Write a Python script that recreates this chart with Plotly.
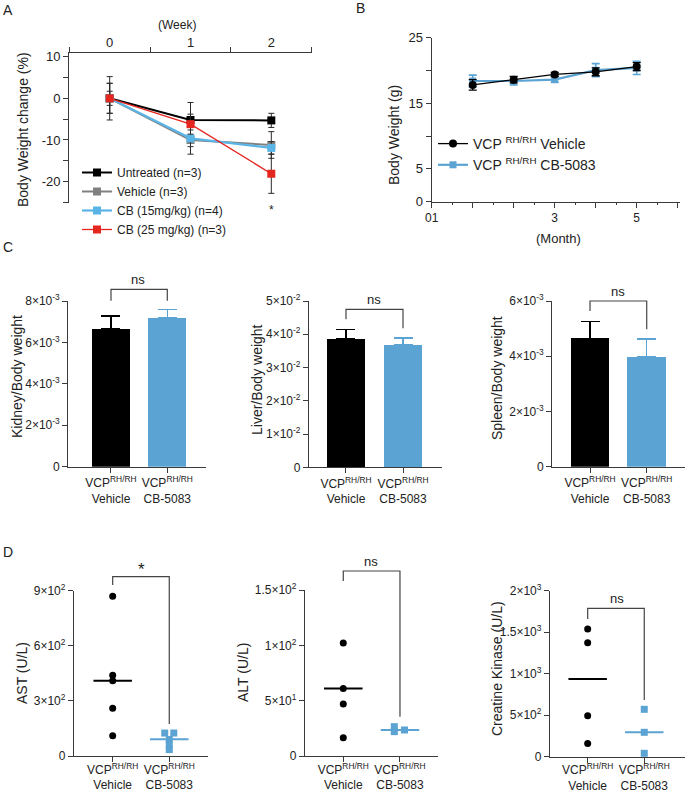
import plotly.graph_objects as go

W, H = 685, 792
FONT = "Arial, Liberation Sans, Helvetica, sans-serif"
TXT = "#222222"
AX = "#3a3a3a"

# ---------------- data ----------------
weeks = [0, 1, 2]
a_untreated = [0, -5.2, -5.3]
a_untreated_err = [5.2, 4.2, 1.7]
a_vehicle = [0, -10.0, -11.2]
a_vehicle_err = [3.6, 3.4, 3.2]
a_cb15 = [0, -9.6, -11.9]
a_cb15_err = [1.7, 2.0, 1.5]
a_cb25 = [0, -6.2, -18.1]
a_cb25_err = [3.6, 2.4, 4.7]
a_names = ["Untreated (n=3)", "Vehicle (n=3)", "CB (15mg/kg) (n=4)", "CB (25 mg/kg) (n=3)"]

months = [1, 2, 3, 4, 5]
b_vehicle = [17.8, 18.6, 19.4, 19.8, 20.6]
b_vehicle_err = [0.8, 0.5, 0.3, 0.6, 0.6]
b_cb = [18.4, 18.4, 18.6, 20.05, 20.4]
b_cb_err = [0.9, 0.6, 0.4, 1.0, 1.0]
b_names = ["VCP <sup>RH/RH</sup> Vehicle", "VCP <sup>RH/RH</sup> CB-5083"]

groups = ["VCP<sup>RH/RH</sup><br>Vehicle", "VCP<sup>RH/RH</sup><br>CB-5083"]
kidney = [6.65e-3, 7.18e-3]
kidney_err = [0.63e-3, 0.42e-3]
liver = [3.87e-2, 3.69e-2]
liver_err = [0.27e-2, 0.20e-2]
spleen = [4.65e-3, 3.99e-3]
spleen_err = [0.60e-3, 0.63e-3]

ast_vehicle = [870, 440, 410, 260, 110]
ast_vehicle_center = 410
ast_cb = [125, 125, 90, 60, 35]
ast_cb_center = 91
alt_vehicle = [102, 61, 47, 16.5]
alt_vehicle_center = 61
alt_cb = [26.5, 22, 23.5]
alt_cb_center = 23.5
ck_vehicle = [1540, 1373, 494, 160]
ck_vehicle_center = 936
ck_cb = [571, 294, 41]
ck_cb_center = 294

# small horizontal spreads of overlapping points (category units)
ast_cb_spread = [-0.08, 0.08, 0, 0, 0]
alt_cb_spread = [-0.1, -0.1, 0.08]

# ---------------- styling ----------------
BLACK = "#000000"
GRAY = "#808080"
BLUE_A = "#5AB4E6"
RED = "#E5261F"
BLUE = "#5BA3D3"

boxes = {
    "A": dict(l=69.3, r=311.7, t=53.3, b=202.5),
    "B": dict(l=431.7, r=680, t=37.7, b=201.7),
    "C1": dict(l=68.3, r=205.7, t=301, b=466.7),
    "C2": dict(l=309, r=441.7, t=301, b=467.3),
    "C3": dict(l=552.3, r=685, t=301, b=466.7),
    "D1": dict(l=74, r=208.3, t=590.7, b=756),
    "D2": dict(l=305, r=438.3, t=590, b=756),
    "D3": dict(l=550, r=685, t=590.7, b=756.7),
}
xranges = {
    "A": [-0.5, 2.5], "B": [0, 6.056],
    "C1": [-0.758, 1.682], "C2": [-0.649, 1.679], "C3": [-0.665, 1.675],
    "D1": [-0.684, 1.69], "D2": [-0.675, 1.676], "D3": [-0.666, 1.72],
}
axid = {"A": "", "B": "2", "C1": "3", "C2": "4", "C3": "5", "D1": "6", "D2": "7", "D3": "8"}


def dx(b):
    return [b["l"] / W, min(b["r"] / W, 1)]


def dy(b):
    return [1 - b["b"] / H, 1 - b["t"] / H]


def xpx(panel, v):
    b, r = boxes[panel], xranges[panel]
    return b["l"] + (v - r[0]) / (r[1] - r[0]) * (b["r"] - b["l"])


base_axis = dict(showline=True, linecolor=AX, linewidth=1.3, ticks="outside",
                 tickcolor=AX, tickwidth=1.2, ticklen=5, showgrid=False, zeroline=False,
                 automargin=False, tickangle=0,
                 tickfont=dict(family=FONT, size=12, color=TXT), fixedrange=True)

fig = go.Figure()

# ---------------- Panel A ----------------
a_series = [
    (a_untreated, a_untreated_err, BLACK, 2.0),
    (a_vehicle, a_vehicle_err, GRAY, 2.0),
    (a_cb15, a_cb15_err, BLUE_A, 2.2),
    (a_cb25, a_cb25_err, RED, 1.3),
]
for (vals, err, col, lw), name in zip(a_series, a_names):
    fig.add_trace(go.Scatter(
        x=weeks, y=vals, name=name, mode="lines+markers",
        line=dict(color=col, width=lw),
        marker=dict(symbol="square", size=8, color=col),
        error_y=dict(type="data", array=err, color="#2a2a2a", thickness=1, width=3),
        xaxis="x", yaxis="y", legend="legend", cliponaxis=False))

# ---------------- Panel B ----------------
fig.add_trace(go.Scatter(
    x=months, y=b_cb, name=b_names[1], mode="lines+markers",
    line=dict(color=BLUE, width=2.2), marker=dict(symbol="square", size=7, color=BLUE),
    error_y=dict(type="data", array=b_cb_err, color=BLUE, thickness=1.6, width=4),
    xaxis="x2", yaxis="y2", legend="legend2", legendrank=2))
fig.add_trace(go.Scatter(
    x=months, y=b_vehicle, name=b_names[0], mode="lines+markers",
    line=dict(color=BLACK, width=1.3), marker=dict(symbol="circle", size=8, color=BLACK),
    error_y=dict(type="data", array=b_vehicle_err, color=BLACK, thickness=1.3, width=4),
    xaxis="x2", yaxis="y2", legend="legend2", legendrank=1))

# ---------------- Panel C ----------------
for panel, vals, errs in [("C1", kidney, kidney_err), ("C2", liver, liver_err), ("C3", spleen, spleen_err)]:
    i = axid[panel]
    for k, col in enumerate([BLACK, BLUE]):
        fig.add_trace(go.Bar(
            x=[k], y=[vals[k]], width=0.675,
            marker=dict(color=col, line=dict(width=0)),
            error_y=dict(type="data", array=[errs[k]], arrayminus=[0], symmetric=False,
                         color=col, thickness=1.5, width=9.5),
            xaxis="x" + i, yaxis="y" + i, showlegend=False))

# ---------------- Panel D ----------------
d_sets = [
    ("D1", ast_vehicle, ast_vehicle_center, ast_cb, ast_cb_center, ast_cb_spread),
    ("D2", alt_vehicle, alt_vehicle_center, alt_cb, alt_cb_center, alt_cb_spread),
    ("D3", ck_vehicle, ck_vehicle_center, ck_cb, ck_cb_center, [0] * len(ck_cb)),
]
for panel, veh, vc, cb, cc, spread in d_sets:
    i = axid[panel]
    fig.add_trace(go.Scatter(x=[-0.34, 0.34], y=[vc, vc], mode="lines",
                             line=dict(color=BLACK, width=2), xaxis="x" + i, yaxis="y" + i,
                             showlegend=False, cliponaxis=False))
    fig.add_trace(go.Scatter(x=[1 - 0.34, 1 + 0.34], y=[cc, cc], mode="lines",
                             line=dict(color=BLUE, width=2), xaxis="x" + i, yaxis="y" + i,
                             showlegend=False, cliponaxis=False))
    fig.add_trace(go.Scatter(x=[0] * len(veh), y=veh, mode="markers",
                             marker=dict(symbol="circle", size=7, color=BLACK),
                             xaxis="x" + i, yaxis="y" + i, showlegend=False, cliponaxis=False))
    fig.add_trace(go.Scatter(x=[1 + s for s in spread], y=cb, mode="markers",
                             marker=dict(symbol="square", size=7, color=BLUE),
                             xaxis="x" + i, yaxis="y" + i, showlegend=False, cliponaxis=False))

# ---------------- axes ----------------
layout_axes = {}
# A
layout_axes["xaxis"] = dict(base_axis, domain=dx(boxes["A"]), range=xranges["A"], anchor="y", side="top",
                            tickvals=weeks, ticktext=["0", "1", "2"], ticks="",
                            tickfont=dict(family=FONT, size=13, color=TXT),
                            minor=dict(ticks="outside", tick0=-0.5, dtick=1, ticklen=5, tickcolor=AX, tickwidth=1.2))
layout_axes["yaxis"] = dict(base_axis, domain=dy(boxes["A"]), range=[-25, 10.8], anchor="x",
                            tickvals=[-25, -20, -15, -10, -5, 0, 5, 10],
                            ticktext=["", "-20", "", "-10", "", "0", "", "10"],
                            tickfont=dict(family=FONT, size=13, color=TXT))
# B
layout_axes["xaxis2"] = dict(base_axis, domain=dx(boxes["B"]), range=xranges["B"], anchor="y2",
                             tickvals=[0, 1, 2, 3, 4, 5, 6], ticktext=["01", "", "", "3", "", "5", ""],
                             tickfont=dict(family=FONT, size=12, color=TXT),
                             minor=dict(ticks="outside", tick0=0, dtick=0.5, ticklen=2.5, tickcolor=AX, tickwidth=1))
layout_axes["yaxis2"] = dict(base_axis, domain=dy(boxes["B"]), range=[0, 25], anchor="x2",
                             tickvals=[0, 5, 10, 15, 20, 25], ticktext=["0", "5", "", "15", "", "25"],
                             tickfont=dict(family=FONT, size=13, color=TXT))

ytick_specs = {
    "C1": ([0, 0.002, 0.004, 0.006, 0.008], ["0", "2×10<sup>-3</sup>", "4×10<sup>-3</sup>", "6×10<sup>-3</sup>", "8×10<sup>-3</sup>"], [0, 0.008]),
    "C2": ([0, 0.01, 0.02, 0.03, 0.04, 0.05], ["0", "1×10<sup>-2</sup>", "2×10<sup>-2</sup>", "3×10<sup>-2</sup>", "4×10<sup>-2</sup>", "5×10<sup>-2</sup>"], [0, 0.05]),
    "C3": ([0, 0.002, 0.004, 0.006], ["0", "2×10<sup>-3</sup>", "4×10<sup>-3</sup>", "6×10<sup>-3</sup>"], [0, 0.006]),
    "D1": ([0, 300, 600, 900], ["0", "3×10<sup>2</sup>", "6×10<sup>2</sup>", "9×10<sup>2</sup>"], [0, 900]),
    "D2": ([0, 50, 100, 150], ["0", "5×10<sup>1</sup>", "1×10<sup>2</sup>", "1.5×10<sup>2</sup>"], [0, 150]),
    "D3": ([0, 500, 1000, 1500, 2000], ["0", "5×10<sup>2</sup>", "1×10<sup>3</sup>", "1.5×10<sup>3</sup>", "2×10<sup>3</sup>"], [0, 2000]),
}
for panel, (tv, tt, yr) in ytick_specs.items():
    i = axid[panel]
    layout_axes["xaxis" + i] = dict(base_axis, domain=dx(boxes[panel]), range=xranges[panel], anchor="y" + i,
                                    tickvals=[0, 1], ticktext=groups,
                                    ticklabelstandoff=-3 if panel.startswith("D") else 0,
                                    tickfont=dict(family=FONT, size=12, color=TXT))
    layout_axes["yaxis" + i] = dict(base_axis, domain=dy(boxes[panel]), range=yr, anchor="x" + i,
                                    tickvals=tv, ticktext=tt)

# ---------------- annotations ----------------
def ann(text, x, y, size=13, angle=0, xanchor="center", yanchor="middle"):
    return dict(text=text, x=x / W, y=1 - y / H, xref="paper", yref="paper", showarrow=False,
                font=dict(family=FONT, size=size, color=TXT), textangle=angle,
                xanchor=xanchor, yanchor=yanchor)


annotations = [
    ann("A", 1, 10, 14, xanchor="left"), ann("B", 354, 8, 14, xanchor="left"),
    ann("C", 1, 247, 14, xanchor="left"), ann("D", 1, 552, 14, xanchor="left"),
    ann("(Week)", 176.7, 25, 12),
    ann("(Month)", 558, 239, 13),
    ann("Body Weight change (%)", 23, 130, 14, -90),
    ann("Body Weight (g)", 394, 135, 14, -90),
    ann("Kidney/Body weight", 17, 377, 14, -90),
    ann("Liver/Body weight", 257, 380, 14, -90),
    ann("Spleen/Body weight", 497, 378, 14, -90),
    ann("AST (U/L)", 22, 673, 14, -90),
    ann("ALT (U/L)", 243, 672, 14, -90),
    ann("Creatine Kinase (U/L)", 497, 669, 14, -90),
    ann("ns", 138, 279, 13), ann("ns", 374, 299, 13), ann("ns", 618, 291, 13),
    ann("*", 141, 569, 17), ann("ns", 371, 561, 13), ann("ns", 617, 598, 13),
    dict(text="*", x=2, y=1 - 201 / H, xref="x", yref="paper", showarrow=False,
         font=dict(family=FONT, size=12, color=TXT)),
]

# significance brackets: (panel, top px, left-leg bottom px, right-leg bottom px)
brackets = [("C1", 289.3, 300.7, 300.7), ("C2", 309.3, 319.3, 328.3), ("C3", 301, 311, 329.3),
            ("D1", 576.7, 585, 724), ("D2", 571, 581, 716.7), ("D3", 608.3, 619, 700)]
shapes = []
for panel, top, lb, rb in brackets:
    x0 = xpx(panel, 0) / W
    x1 = xpx(panel, 1) / W
    shapes.append(dict(type="path", xref="paper", yref="paper",
                       path=f"M {x0},{1 - lb / H} L {x0},{1 - top / H} L {x1},{1 - top / H} L {x1},{1 - rb / H}",
                       line=dict(color="#444444", width=1.2)))

fig.update_layout(
    width=W, height=H, margin=dict(l=0, r=0, t=0, b=0, autoexpand=False),
    paper_bgcolor="white", plot_bgcolor="white",
    font=dict(family=FONT, size=12, color=TXT),
    annotations=annotations, shapes=shapes, bargap=0,
    legend=dict(x=77 / W, y=1 - 158 / H, xanchor="left", yanchor="top", bgcolor="rgba(0,0,0,0)",
                font=dict(family=FONT, size=12, color=TXT), tracegroupgap=0, itemwidth=30),
    legend2=dict(x=433 / W, y=1 - 128 / H, xanchor="left", yanchor="top", bgcolor="rgba(0,0,0,0)",
                 font=dict(family=FONT, size=14, color=TXT), tracegroupgap=0, itemwidth=30),
    **layout_axes,
)

fig.write_html("out.html", config={"displayModeBar": False},
               post_script="document.body.style.margin='0';document.body.style.overflow='hidden';")
